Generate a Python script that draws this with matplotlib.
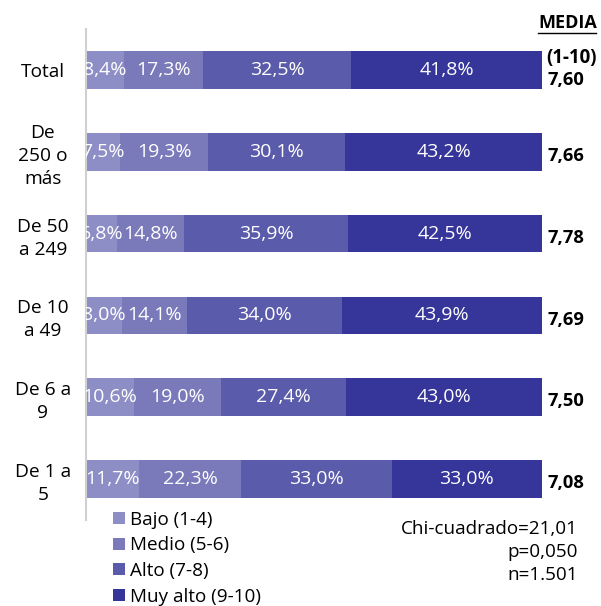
import matplotlib.pyplot as plt
import numpy as np

plt.rcParams['font.family'] = ['Open Sans', 'DejaVu Sans']

categorias = ["Total", "De\n250 o\nmás", "De 50\na 249", "De 10\na 49", "De 6 a\n9", "De 1 a\n5"]
bajo = [8.4, 7.5, 6.8, 8.0, 10.6, 11.7]
medio = [17.3, 19.3, 14.8, 14.1, 19.0, 22.3]
alto = [32.5, 30.1, 35.9, 34.0, 27.4, 33.0]
muy_alto = [41.8, 43.2, 42.5, 43.9, 43.0, 33.0]
medias = ["7,60", "7,66", "7,78", "7,69", "7,50", "7,08"]

series = [bajo, medio, alto, muy_alto]
nombres = ["Bajo (1-4)", "Medio (5-6)", "Alto (7-8)", "Muy alto (9-10)"]
colores = ["#8e8ec7", "#7a7abb", "#5b5bab", "#35359a"]

fig = plt.figure(figsize=(6.01, 6.06), dpi=100)
ax = fig.add_axes([0.143, 0.142, 0.759, 0.810])

y = np.arange(len(categorias))
left = np.zeros(len(categorias))
for vals, nom, col in zip(series, nombres, colores):
    ax.barh(y, vals, left=left, height=0.46, color=col, label=nom, edgecolor='none')
    for yi, l, v in zip(y, left, vals):
        ax.text(l + v / 2, yi, f"{v:.1f}%".replace(".", ","), ha='center', va='center',
                color='white', fontsize=14, clip_on=True)
    left += np.array(vals)

# la media del total va un poco mas abajo por el "(1-10)"
for yi, m in zip(y, medias):
    off = 0.12 if yi == 0 else 0.05
    ax.text(101.2, yi + off, m, ha='left', va='center', fontsize=13.2, fontweight='bold')

ax.set_xlim(0, 100)
ax.set_ylim(len(categorias) - 0.5, -0.5)
ax.set_yticks(y)
ax.set_yticklabels(categorias, fontsize=13.8, ha='center', linespacing=1.35)
ax.tick_params(axis='y', length=0, pad=31)
ax.set_xticks([])
for s in ['top', 'right', 'bottom']:
    ax.spines[s].set_visible(False)
ax.spines['left'].set_color('#d0d0d0')
ax.spines['left'].set_linewidth(1.5)

fig.text(0.993, 0.962, "MEDIA", ha='right', va='center', fontsize=13, fontweight='bold')
fig.add_artist(plt.Line2D([0.895, 0.991], [0.945, 0.945], color='black', linewidth=1))
fig.text(0.993, 0.905, "(1-10)", ha='right', va='center', fontsize=13.5, fontweight='bold')

fig.legend(loc='upper left', bbox_to_anchor=(0.176, 0.17), frameon=False, fontsize=13.6,
           handlelength=0.6, handleheight=0.6, handletextpad=0.3, labelspacing=0.41,
           borderaxespad=0)

fig.text(0.962, 0.142, "Chi-cuadrado=21,01\np=0,050\nn=1.501", ha='right', va='top',
         fontsize=13.6, linespacing=1.36)

fig.savefig("out.png", dpi=100)
